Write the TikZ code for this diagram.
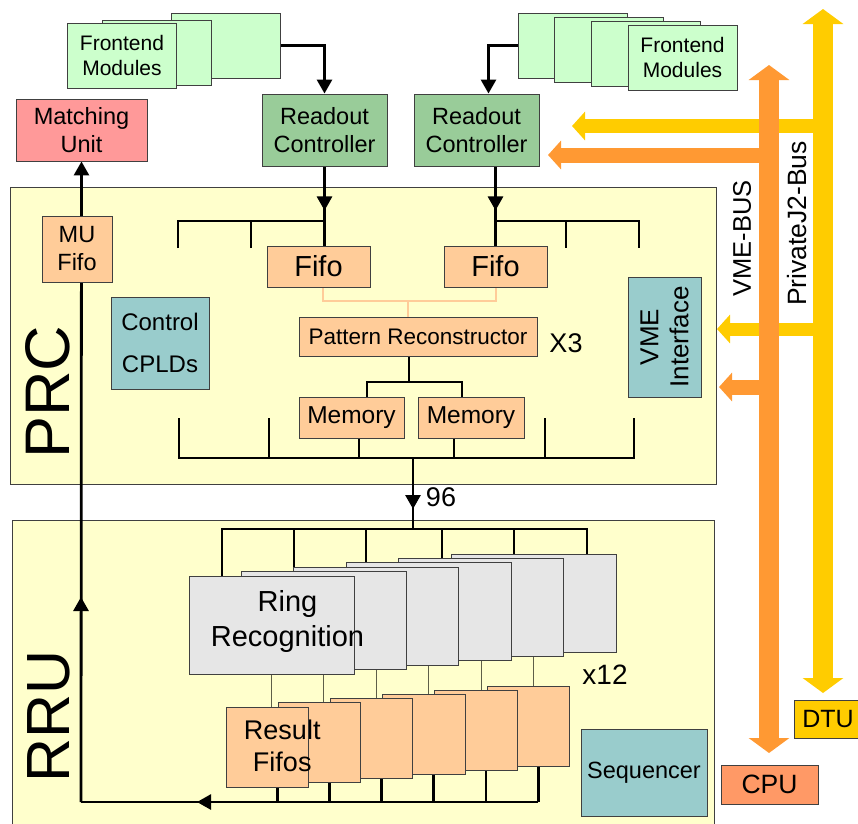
\documentclass[tikz,border=0pt]{standalone}
\usepackage{fontspec}
\setmainfont{Liberation Sans}
\usetikzlibrary{arrows.meta,backgrounds}
\definecolor{feGreen}{HTML}{CCFFCC}
\definecolor{rdGreen}{HTML}{99CC99}
\definecolor{muRed}{HTML}{FF9999}
\definecolor{pale}{HTML}{FFFFCC}
\definecolor{peach}{HTML}{FFCC99}
\definecolor{tealbox}{HTML}{99CCCC}
\definecolor{ringGray}{HTML}{E6E6E6}
\definecolor{busY}{HTML}{FFCC00}
\definecolor{busO}{HTML}{FF9933}
\definecolor{cpuO}{HTML}{FF9966}
\definecolor{thinC}{HTML}{5E5E48}
\newcommand{\fsz}[2]{\fontsize{#1}{#2}\selectfont}
\tikzset{blk/.style={draw=black!75,line width=0.9pt,inner sep=0pt,align=center},
  fe/.style={blk,fill=feGreen,minimum width=109pt,minimum height=65pt,font=\fsz{21}{25}},
  rdo/.style={blk,fill=rdGreen,minimum width=125pt,minimum height=72pt,font=\fsz{23.5}{28}},
  pch/.style={blk,fill=peach},
  ctl/.style={blk,fill=tealbox},
  ring/.style={blk,fill=ringGray,minimum width=165pt,minimum height=98pt,font=\fsz{29}{35}},
  rfifo/.style={blk,fill=peach,minimum width=82.5pt,minimum height=80pt,font=\fsz{27}{32}},
  unit/.style={draw=black!75,line width=0.9pt,fill=pale,inner sep=0pt},
  wire/.style={line width=2.8pt},
  arr/.style={wire,-{Triangle[width=15pt,length=14pt]}},
  thinw/.style={line width=1pt,draw=thinC},
  feed/.style={line width=2pt,draw=peach},
  bus/.style={line width=20pt,{Triangle[width=40pt,length=15pt]}-{Triangle[width=40pt,length=15pt]}},
  tap/.style={-{Triangle[width=28pt,length=13pt]}}}

\begin{document}
\begin{tikzpicture}[x=1pt,y=-1pt]
\useasboundingbox (0,0) rectangle (858,823);
% frontend side
\node[fe] (feLc) at (226,45.5) {};
\node[fe] (feLb) at (156.5,52.5) {};
\node[fe] (feLa) at (122,55.5) {Frontend\\Modules};
\node[fe] (feRd) at (572.5,45.5) {};
\node[fe] (feRc) at (609,49.5) {};
\node[fe] (feRb) at (646,53.5) {};
\node[fe] (feRa) at (682.5,57.5) {Frontend\\Modules};
\node[rdo] (rdL) at (324.5,130) {Readout\\Controller};
\node[rdo] (rdR) at (476.5,130) {Readout\\Controller};
\node[blk,fill=muRed,minimum width=131pt,minimum height=62pt,font=\fsz{23.5}{28}] (mu) at (81.5,130) {Matching\\Unit};
% PRC board
\node[pch,minimum width=70pt,minimum height=66pt,font=\fsz{23.5}{28}] (mufifo) at (77,249) {MU\\Fifo};
\node[ctl,minimum width=98pt,minimum height=92pt,font=\fsz{24}{28}] (cpld) at (160,343) {Control\\[14pt]CPLDs};
\node[pch,minimum width=103pt,minimum height=41pt,font=\fsz{29}{32}] (fifoL) at (318.5,266.5) {Fifo};
\node[pch,minimum width=103pt,minimum height=41pt,font=\fsz{29}{32}] (fifoR) at (495.5,266.5) {Fifo};
\node[pch,minimum width=238pt,minimum height=39pt,font=\fsz{22.5}{26}] (patrec) at (418,336.5) {Pattern Reconstructor};
\node[font=\fsz{27}{30}] (x3) at (566,343) {X3};
\node[pch,minimum width=105pt,minimum height=41pt,font=\fsz{24.5}{28}] (memL) at (351.5,417.5) {Memory};
\node[pch,minimum width=106pt,minimum height=41pt,font=\fsz{24.5}{28}] (memR) at (471,417.5) {Memory};
\node[ctl,rotate=90,minimum width=120pt,minimum height=73pt,font=\fsz{26}{30}] (vme) at (664.5,337) {VME\\Interface};
\node[font=\fsz{63}{63},rotate=90] (prcLbl) at (48,392) {PRC};
\node[font=\fsz{27}{30}] (n96) at (441,497) {96};
% RRU board
\foreach \k in {5,4,...,1}
  \node[ring] (ring\k) at (271.5+52.4*\k,625-4.4*\k) {};
\node[ring,label={[align=center,font=\fsz{29}{35},xshift=16pt,yshift=4pt]center:Ring\\Recognition}] (ring0) at (271.5,625) {};
\foreach \k in {5,4,...,1}
  \node[rfifo] (rf\k) at (267.25+52.2*\k,747-4.2*\k) {};
\node[rfifo,label={[align=center,font=\fsz{27}{32},xshift=15pt,yshift=1pt]center:Result\\Fifos}] (rf0) at (267.25,747) {};
\node[font=\fsz{28}{30}] (x12) at (605,675) {x12};
\node[ctl,minimum width=126pt,minimum height=87pt,font=\fsz{23.5}{28}] (seq) at (644,772.5) {Sequencer};
\node[font=\fsz{61}{61},rotate=90] (rruLbl) at (49,716.5) {RRU};
\node[blk,fill=cpuO,minimum width=97pt,minimum height=39pt,font=\fsz{26.5}{30}] (cpu) at (769.5,784.5) {CPU};
\node[blk,fill=busY,minimum width=68pt,minimum height=38pt,font=\fsz{25}{30}] (dtu) at (828,719) {DTU};

\begin{pgfonlayer}{background}
\node[unit,minimum width=706pt,minimum height=297pt] (prc) at (363,335.5) {};
\node[unit,minimum width=702pt,minimum height=310pt] (rru) at (363,675) {};
\coordinate (tbL) at (324.5,221);
\coordinate (tbR) at (495.5,221);
\coordinate (jn) at (408,301);
\coordinate (pj) at (409,382);
\coordinate (prcOut) at (413,458);
\coordinate (rruIn) at (413,529);
\coordinate (tip96) at (413,509);
\coordinate (rbW) at (81,802);
\coordinate (rbE) at (538,802);
\coordinate (rbA) at (197,802);
\coordinate (muA) at (81,597);
% readout paths
\draw[arr] (feLc.east) -| (rdL.north);
\draw[arr] (feRd.west) -| ([xshift=12pt]rdR.north);
\draw[wire] (rdL.south) -- (rdL.south |- fifoL.north);
\draw[arr] (rdL.south) -- ++(0,44);
\draw[wire] (rdR.south -| fifoR.north) -- (fifoR.north);
\draw[arr] (rdR.south -| fifoR.north) -- ++(0,44);
\draw[wire] (178,248) |- (tbL);
\draw[wire] (251,248) -- (251,221);
\draw[wire] (tbR) -| (639,248);
\draw[wire] (566,221) -- (566,248);
\draw[feed] ([xshift=4.5pt]fifoL.south) |- (jn) -| (fifoR.south);
\draw[feed] (jn) -- (jn |- patrec.north);
\draw[wire] (pj |- patrec.south) -- (pj);
\draw[wire] ([xshift=15.5pt]memL.north) |- (pj) -| ([xshift=-9pt]memR.north);
\draw[wire] (179,418) |- (634,458) -- (634,418);
\draw[wire] (269,418) -- (269,458);
\draw[wire] (545,418) -- (545,458);
\draw[wire] ([xshift=7.5pt]memL.south) -- ++(0,20);
\draw[wire] ([xshift=-17pt]memR.south) -- ++(0,20);
\draw[wire] (prcOut) -- (rruIn);
\draw[arr] (prcOut) -- (tip96);
% ring recognition fan-out
\draw[wire] (222,580) |- (587,529) -- (587,580);
\foreach \x in {294,366,442,514}
  \draw[wire] (\x,529) -- (\x,580);
\foreach \k in {0,...,5}
  \draw[thinw] (ring\k.south) -- (ring\k.south |- rf\k.north);
\foreach \k in {0,...,5}{
  \path ([xshift=10pt]rf\k.south) coordinate (t\k);
  \draw[wire] (t\k) -- (t\k |- rbW);}
\draw[wire] (rbE) -- (rbW);
\draw[arr] (rbW) -- (mu.south);
\draw[arr] (rbE) -- (rbA);
\draw[arr] (rbW) -- (muA);
\end{pgfonlayer}

% buses
\draw[bus,busY] (823,9) -- (823,693);
\draw[tap,busY,line width=14pt] (823,126) -- (572,126);
\draw[tap,busY,line width=13pt] (823,329) -- (717,329);
\draw[bus,busO] (769,65) -- (769,753);
\draw[tap,busO,line width=15pt] (769,155) -- (548,155);
\draw[tap,busO,line width=15pt] (769,387) -- (719,387);
\node[font=\fsz{25.5}{28},rotate=90] (vmeBus) at (742,238.5) {VME-BUS};
\node[font=\fsz{26.5}{28},rotate=90] (j2Bus) at (797,223.5) {PrivateJ2-Bus};
\end{tikzpicture}
\end{document}
